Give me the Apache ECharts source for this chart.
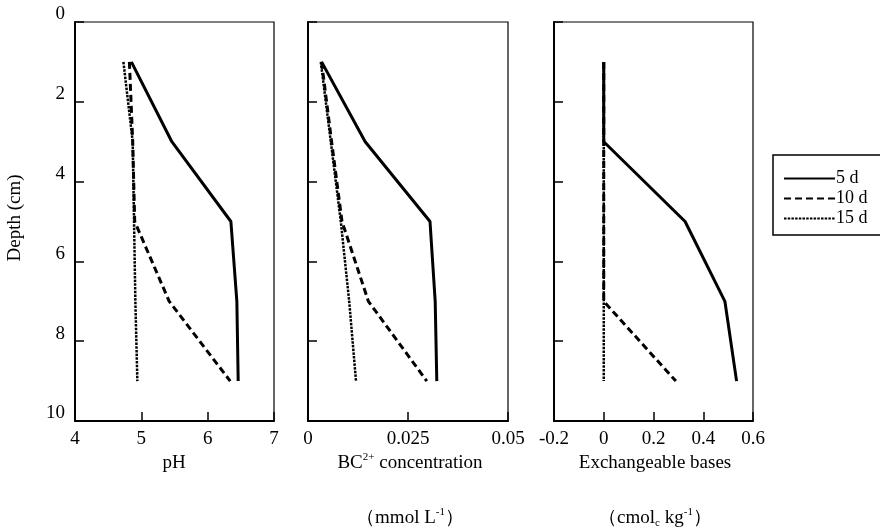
<!DOCTYPE html>
<html>
<head>
<meta charset="utf-8">
<script src="https://cdn.jsdelivr.net/npm/echarts@6/dist/echarts.min.js"></script>
<style>
  html, body { margin: 0; padding: 0; background: #fff; }
  #chart { width: 880px; height: 531px; }
</style>
</head>
<body>
<div id="chart"></div>
<script>
// Sampling depths (cm)
const depths = [1, 3, 5, 7, 9];
const seriesNames = ['5 d', '10 d', '15 d'];

// Soil solution pH
const ph5d  = [4.85, 5.46, 6.35, 6.44, 6.46];
const ph10d = [4.82, 4.87, 4.90, 5.42, 6.34];
const ph15d = [4.73, 4.87, 4.89, 4.91, 4.94];

// BC2+ concentration (mmol L-1)
const bc5d  = [0.0034, 0.0143, 0.0305, 0.0318, 0.0322];
const bc10d = [0.0034, 0.0059, 0.0085, 0.0151, 0.0297];
const bc15d = [0.0032, 0.0057, 0.0082, 0.0103, 0.0120];

// Exchangeable bases (cmolc kg-1)
const eb5d  = [0, 0, 0.327, 0.487, 0.534];
const eb10d = [0, 0, 0, 0, 0.29];
const eb15d = [0, 0, 0, 0, 0];

// Axis ranges and tick labels
const depthTicks = [0, 2, 4, 6, 8, 10];
const phTicks = [4, 5, 6, 7];
const bcTicks = [0, 0.025, 0.05];
const ebTicks = [-0.2, 0, 0.2, 0.4, 0.6];

const FONT = '"Liberation Serif", "Times New Roman", serif';
const FS = 19;
const ink = '#000';

const lineStyles = [
  { color: ink, width: 3, type: 'solid' },
  { color: ink, width: 3, type: [7, 4] },
  { color: ink, width: 2.5, type: [2.5, 1.2] }
];

const grids = [
  { left: 75, top: 22, width: 199, height: 399 },
  { left: 308, top: 22, width: 200, height: 399 },
  { left: 554, top: 22, width: 199, height: 399 }
].map(g => Object.assign({ show: true, borderColor: ink, borderWidth: 1.2, backgroundColor: 'transparent' }, g));

function xAxisFor(idx, ticks) {
  return {
    type: 'value',
    gridIndex: idx,
    min: ticks[0],
    max: ticks[ticks.length - 1],
    interval: ticks[1] - ticks[0],
    splitLine: { show: false },
    axisLine: { show: true, onZero: false, lineStyle: { color: ink, width: 2 } },
    axisTick: { show: true, inside: true, length: 9, lineStyle: { color: ink, width: 1.5 } },
    axisLabel: {
      show: true, color: ink, fontFamily: FONT, fontSize: FS, margin: 9,
      formatter: v => String(+v.toFixed(3))
    }
  };
}

function yAxisFor(idx, showLabels) {
  return {
    type: 'value',
    gridIndex: idx,
    inverse: true,
    min: depthTicks[0],
    max: depthTicks[depthTicks.length - 1],
    interval: depthTicks[1] - depthTicks[0],
    splitLine: { show: false },
    axisLine: { show: true, onZero: false, lineStyle: { color: ink, width: 2 } },
    axisTick: { show: true, inside: true, length: 9, lineStyle: { color: ink, width: 1.5 } },
    axisLabel: {
      show: showLabels, color: ink, fontFamily: FONT, fontSize: FS, margin: 10,
      verticalAlign: 'bottom', lineHeight: 15
    }
  };
}

const panels = [
  [ph5d, ph10d, ph15d],
  [bc5d, bc10d, bc15d],
  [eb5d, eb10d, eb15d]
];

const series = [];
panels.forEach((set, p) => {
  set.forEach((vals, s) => {
    series.push({
      name: seriesNames[s],
      type: 'line',
      xAxisIndex: p,
      yAxisIndex: p,
      symbol: 'none',
      smooth: false,
      silent: true,
      animation: false,
      lineStyle: lineStyles[s],
      itemStyle: { color: ink },
      z: 3 - s,
      data: vals.map((v, i) => [v, depths[i]])
    });
  });
});

const richBase = {
  n: { fontFamily: FONT, fontSize: FS, color: ink, lineHeight: 22 },
  sup: { fontFamily: FONT, fontSize: 11, color: ink, lineHeight: 22, verticalAlign: 'top', padding: [0, 0, 8, 0] },
  sub: { fontFamily: FONT, fontSize: 11, color: ink, lineHeight: 22, verticalAlign: 'bottom', padding: [10, 0, 0, 0] }
};

const option = {
  backgroundColor: '#fff',
  animation: false,
  grid: grids,
  xAxis: [xAxisFor(0, phTicks), xAxisFor(1, bcTicks), xAxisFor(2, ebTicks)],
  yAxis: [yAxisFor(0, true), yAxisFor(1, false), yAxisFor(2, false)],
  legend: {
    data: seriesNames,
    orient: 'vertical',
    left: 783,
    top: 169,
    padding: 0,
    itemGap: 1,
    itemWidth: 51,
    itemHeight: 12,
    selectedMode: false,
    itemStyle: { opacity: 0 },
    textStyle: { color: ink, fontFamily: FONT, fontSize: 18, lineHeight: 19, padding: [0, 0, 0, -4] }
  },
  graphic: [
    {
      type: 'rect', silent: true, z: 0,
      shape: { x: 773, y: 155, width: 120, height: 80 },
      style: { fill: '#fff', stroke: ink, lineWidth: 1.5 }
    },
    {
      type: 'text', silent: true,
      x: 15, y: 218, rotation: Math.PI / 2,
      style: { text: 'Depth (cm)', align: 'center', verticalAlign: 'middle', fill: ink, font: FS + 'px ' + FONT }
    },
    {
      type: 'text', silent: true, x: 174, y: 463,
      style: { text: 'pH', align: 'center', verticalAlign: 'middle', fill: ink, font: FS + 'px ' + FONT }
    },
    {
      type: 'text', silent: true, x: 410, y: 463,
      style: { text: '{n|BC}{sup|2+}{n| concentration}', rich: richBase, align: 'center', verticalAlign: 'middle' }
    },
    {
      type: 'text', silent: true, x: 410, y: 518,
      style: { text: '{n|（mmol L}{sup|-1}{n|）}', rich: richBase, align: 'center', verticalAlign: 'middle' }
    },
    {
      type: 'text', silent: true, x: 655, y: 463,
      style: { text: 'Exchangeable bases', align: 'center', verticalAlign: 'middle', fill: ink, font: FS + 'px ' + FONT }
    },
    {
      type: 'text', silent: true, x: 655, y: 518,
      style: { text: '{n|（cmol}{sub|c}{n| kg}{sup|-1}{n|）}', rich: richBase, align: 'center', verticalAlign: 'middle' }
    }
  ],
  series: series
};

const chart = echarts.init(document.getElementById('chart'), null, { renderer: 'canvas' });
chart.setOption(option);
</script>
</body>
</html>
